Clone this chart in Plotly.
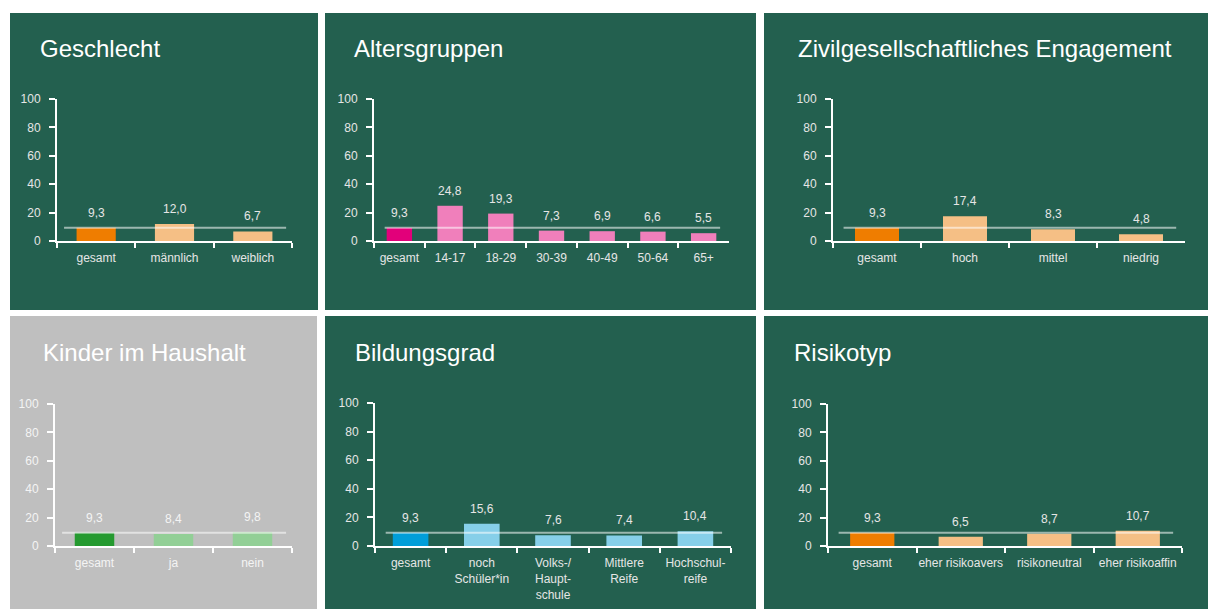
import plotly.graph_objects as go

W, H = 1208, 609

# ---- data ----
geschlecht_cats = ["gesamt", "männlich", "weiblich"]
geschlecht_vals = [9.3, 12.0, 6.7]

alter_cats = ["gesamt", "14-17", "18-29", "30-39", "40-49", "50-64", "65+"]
alter_vals = [9.3, 24.8, 19.3, 7.3, 6.9, 6.6, 5.5]

engagement_cats = ["gesamt", "hoch", "mittel", "niedrig"]
engagement_vals = [9.3, 17.4, 8.3, 4.8]

kinder_cats = ["gesamt", "ja", "nein"]
kinder_vals = [9.3, 8.4, 9.8]

bildung_cats = ["gesamt", "noch<br>Schüler*in", "Volks-/<br>Haupt-<br>schule", "Mittlere<br>Reife", "Hochschul-<br>reife"]
bildung_vals = [9.3, 15.6, 7.6, 7.4, 10.4]

risiko_cats = ["gesamt", "eher risikoavers", "risikoneutral", "eher risikoaffin"]
risiko_vals = [9.3, 6.5, 8.7, 10.7]

y_ticks = [0, 20, 40, 60, 80, 100]

# ---- styling ----
GREEN = "#23604f"
GREY = "#bfbfbf"
FONT = "Liberation Sans, Arial, sans-serif"

panels = [
    dict(title="Geschlecht", cats=geschlecht_cats, vals=geschlecht_vals,
         c1="#ef7d00", c2="#f5bf85", bg=GREEN, txt="#e6e6e6",
         box=(10, 13, 318, 310), ax=(57, 99, 292, 241), tpos=(38, 48)),
    dict(title="Altersgruppen", cats=alter_cats, vals=alter_vals,
         c1="#e2007a", c2="#f07fbb", bg=GREEN, txt="#e6e6e6",
         box=(325, 13, 756, 310), ax=(374, 99, 729, 241), tpos=(352, 48)),
    dict(title="Zivilgesellschaftliches Engagement", cats=engagement_cats, vals=engagement_vals,
         c1="#ef7d00", c2="#f5bf85", bg=GREEN, txt="#e6e6e6",
         box=(764, 13, 1208, 310), ax=(833, 99, 1185, 241), tpos=(796, 48)),
    dict(title="Kinder im Haushalt", cats=kinder_cats, vals=kinder_vals,
         c1="#259a30", c2="#92cf96", bg=GREY, txt="#f4f4f4",
         box=(10, 316, 317, 612), ax=(55, 404, 292, 546), tpos=(41, 352)),
    dict(title="Bildungsgrad", cats=bildung_cats, vals=bildung_vals,
         c1="#009ed9", c2="#86cfe9", bg=GREEN, txt="#e6e6e6",
         box=(325, 316, 756, 612), ax=(375, 403, 731, 546), tpos=(353, 352)),
    dict(title="Risikotyp", cats=risiko_cats, vals=risiko_vals,
         c1="#ef7d00", c2="#f5bf85", bg=GREEN, txt="#e6e6e6",
         box=(764, 316, 1208, 612), ax=(828, 404, 1182, 546), tpos=(792, 352)),
]

fig = go.Figure()
shapes = []
annotations = []
layout_axes = {}

for i, p in enumerate(panels, start=1):
    xa = "x" if i == 1 else f"x{i}"
    ya = "y" if i == 1 else f"y{i}"
    xname = "xaxis" if i == 1 else f"xaxis{i}"
    yname = "yaxis" if i == 1 else f"yaxis{i}"
    bx0, by0, bx1, by1 = p["box"]
    shapes.append(dict(type="rect", xref="paper", yref="paper", layer="below",
                       x0=bx0 / W, x1=bx1 / W, y0=1 - by1 / H, y1=1 - by0 / H,
                       fillcolor=p["bg"], line=dict(width=0)))
    colors = [p["c1"]] + [p["c2"]] * (len(p["cats"]) - 1)
    fig.add_trace(go.Bar(x=p["cats"], y=p["vals"], marker=dict(color=colors, line=dict(width=0)),
                         xaxis=xa, yaxis=ya, showlegend=False, hoverinfo="skip"))
    ax0, ay0, ax1, ay1 = p["ax"]
    layout_axes[xname] = dict(domain=[ax0 / W, ax1 / W], anchor=ya, type="category",
                              automargin=False, ticklabelstandoff=5,
                              showline=True, linecolor="white", linewidth=2,
                              ticks="outside", tickson="boundaries", ticklen=5, tickwidth=1.5,
                              tickcolor="white", showgrid=False, zeroline=False, tickangle=0,
                              tickfont=dict(family=FONT, size=12, color=p["txt"]),
                              fixedrange=True)
    layout_axes[yname] = dict(domain=[1 - ay1 / H, 1 - ay0 / H], anchor=xa, range=[0, 100],
                              automargin=False, ticklabelstandoff=6,
                              tickvals=y_ticks, showline=True, linecolor="white", linewidth=2,
                              ticks="outside", ticklen=6, tickwidth=1.5, tickcolor="white",
                              showgrid=False, zeroline=False,
                              tickfont=dict(family=FONT, size=12, color=p["txt"]),
                              fixedrange=True)
    # reference line at the 'gesamt' value
    ref = p["vals"][0]
    shapes.append(dict(type="line", xref=f"{xa} domain", yref=ya,
                       x0=0.03, x1=0.975, y0=ref, y1=ref,
                       line=dict(color="rgba(255,255,255,0.55)", width=2)))
    # value labels
    for c, v in zip(p["cats"], p["vals"]):
        annotations.append(dict(x=c, y=v, xref=xa, yref=ya, showarrow=False,
                                text=f"{v:.1f}".replace(".", ","), yanchor="middle",
                                yshift=15, font=dict(family=FONT, size=12, color=p["txt"])))
    # panel title
    tx, ty = p["tpos"]
    annotations.append(dict(x=tx / W, y=1 - ty / H, xref="paper", yref="paper",
                            xanchor="left", yanchor="middle", showarrow=False,
                            text=p["title"], font=dict(family=FONT, size=24, color="white")))

fig.update_layout(
    width=W, height=H, margin=dict(l=0, r=0, t=0, b=0, autoexpand=False),
    paper_bgcolor="white", plot_bgcolor="rgba(0,0,0,0)",
    bargap=0.5, shapes=shapes, annotations=annotations,
    font=dict(family=FONT),
    **layout_axes,
)

fig.write_html(
    "out.html",
    config={"displayModeBar": False},
    post_script="document.body.style.margin='0';document.body.style.overflow='hidden';"
                "document.documentElement.style.overflow='hidden';",
)
